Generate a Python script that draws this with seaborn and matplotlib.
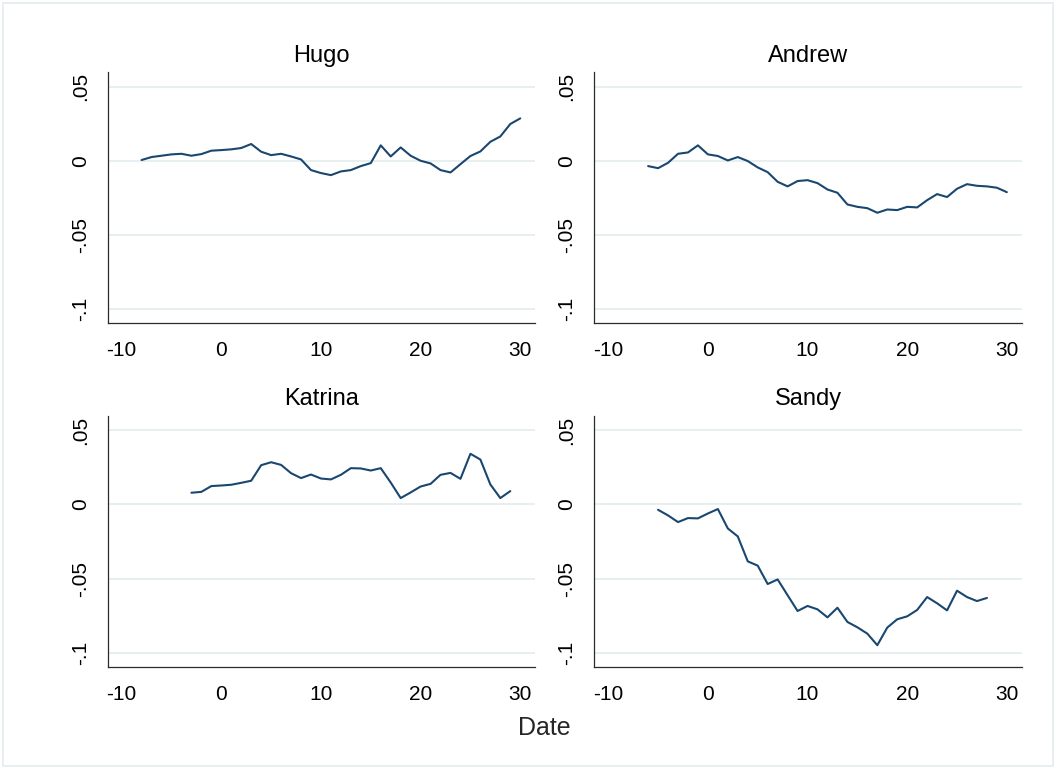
import numpy as np
import pandas as pd
import matplotlib
matplotlib.use("Agg")
import matplotlib.pyplot as plt
import seaborn as sns
from matplotlib.patches import Rectangle

# ---- data ----
storms = ["Hugo", "Andrew", "Katrina", "Sandy"]

hugo_dates = list(range(-8, 31))
hugo_vals = [0.0005, 0.0025, 0.0034, 0.0043, 0.0047, 0.0034, 0.0045, 0.0068, 0.0072,
             0.0077, 0.0086, 0.0113, 0.0061, 0.0038, 0.0047, 0.0029, 0.0009, -0.0063,
             -0.0083, -0.0097, -0.0072, -0.0063, -0.0036, -0.0016, 0.0104, 0.0029,
             0.0090, 0.0034, 0.0000, -0.0018, -0.0063, -0.0079, -0.0023, 0.0032,
             0.0063, 0.0128, 0.0164, 0.0248, 0.0286]

andrew_dates = list(range(-6, 31))
andrew_vals = [-0.0036, -0.0050, -0.0014, 0.0047, 0.0056, 0.0104, 0.0043, 0.0032,
               0.0002, 0.0025, -0.0002, -0.0045, -0.0077, -0.0142, -0.0173, -0.0137,
               -0.0131, -0.0151, -0.0194, -0.0216, -0.0295, -0.0311, -0.0320, -0.0351,
               -0.0329, -0.0333, -0.0311, -0.0315, -0.0266, -0.0225, -0.0245, -0.0189,
               -0.0158, -0.0169, -0.0173, -0.0182, -0.0212]

katrina_dates = list(range(-3, 30))
katrina_vals = [0.0079, 0.0085, 0.0124, 0.0128, 0.0133, 0.0146, 0.0160, 0.0265, 0.0285,
                0.0267, 0.0211, 0.0178, 0.0202, 0.0175, 0.0169, 0.0200, 0.0245, 0.0243,
                0.0229, 0.0245, 0.0148, 0.0043, 0.0081, 0.0121, 0.0139, 0.0200, 0.0213,
                0.0173, 0.0342, 0.0303, 0.0135, 0.0043, 0.0090]

sandy_dates = list(range(-5, 29))
sandy_vals = [-0.0036, -0.0074, -0.0119, -0.0092, -0.0094, -0.0061, -0.0031, -0.0162,
              -0.0216, -0.0384, -0.0413, -0.0537, -0.0506, -0.0613, -0.0719, -0.0685,
              -0.0708, -0.0762, -0.0697, -0.0793, -0.0829, -0.0872, -0.0950, -0.0831,
              -0.0775, -0.0755, -0.0712, -0.0625, -0.0667, -0.0715, -0.0582, -0.0625,
              -0.0652, -0.0631]

x_ticks = [-10, 0, 10, 20, 30]
y_ticks = [-0.1, -0.05, 0, 0.05]
y_ticklabels = ["-.1", "-.05", "0", ".05"]

frames = []
for name, d, v in [("Hugo", hugo_dates, hugo_vals), ("Andrew", andrew_dates, andrew_vals),
                   ("Katrina", katrina_dates, katrina_vals), ("Sandy", sandy_dates, sandy_vals)]:
    frames.append(pd.DataFrame({"storm": name, "Date": d, "value": v}))
df = pd.concat(frames, ignore_index=True)

# ---- style ----
sns.set_style("white")
plt.rcParams["font.family"] = ["Liberation Sans", "DejaVu Sans"]

LINE = "#1a476f"
GRID = "#e6eef0"
SPINE = "#2b2b2b"

W, H = 1056, 769
fig = plt.figure(figsize=(W / 100, H / 100), dpi=100)
fig.patch.set_facecolor("white")

ax_w = 427.5 / W
ax_h = 251.0 / H
lefts = [107.7 / W, 594.3 / W]
bottoms = [(H - 323.0) / H, (H - 666.7) / H]
pos = {
    "Hugo": [lefts[0], bottoms[0], ax_w, ax_h],
    "Andrew": [lefts[1], bottoms[0], ax_w, ax_h],
    "Katrina": [lefts[0], bottoms[1], ax_w, ax_h],
    "Sandy": [lefts[1], bottoms[1], ax_w, ax_h],
}

for storm in storms:
    ax = fig.add_axes(pos[storm])
    sns.lineplot(data=df[df.storm == storm], x="Date", y="value", ax=ax,
                 color=LINE, lw=1.5, estimator=None)
    ax.set_xlim(-11.4, 31.5)
    ax.set_ylim(-0.1095, 0.0599)
    ax.set_xticks(x_ticks)
    ax.set_xticklabels([str(t) for t in x_ticks])
    ax.set_yticks(y_ticks)
    ax.set_yticklabels(y_ticklabels, rotation=90, va="center")
    ax.grid(axis="y", color=GRID, lw=1.3)
    ax.grid(axis="x", visible=False)
    ax.set_axisbelow(True)
    for s in ["top", "right"]:
        ax.spines[s].set_visible(False)
    for s in ["left", "bottom"]:
        ax.spines[s].set_color(SPINE)
        ax.spines[s].set_linewidth(0.9)
    ax.tick_params(axis="both", direction="out", length=6.5, width=0.8,
                   color=SPINE, labelsize=15, labelcolor="black")
    ax.tick_params(axis="x", pad=6.5)
    ax.tick_params(axis="y", pad=6.5)
    ax.set_title(storm, fontsize=17, pad=7.4, color="black")
    ax.set_xlabel("")
    ax.set_ylabel("")
    ax.set_facecolor("white")

fig.text(544 / W, 1 - 728 / H, "Date", ha="center", va="center", fontsize=18)

fig.add_artist(Rectangle((3 / W, 3 / H), (W - 6) / W, (H - 6) / H,
                         transform=fig.transFigure, fill=False, ec="#e3ecef", lw=1.2))

fig.savefig("out.png", dpi=100)
